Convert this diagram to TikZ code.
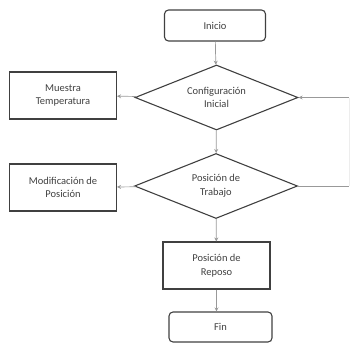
\documentclass[tikz,border=0pt]{standalone}
\usepackage{fontspec}
\setmainfont{Carlito}
\usetikzlibrary{shapes.geometric,arrows.meta}
\begin{document}
\begin{tikzpicture}[x=1pt,y=-1pt,
  every node/.style={font=\fontsize{10.5}{13.5}\selectfont, text=black!75, align=center, inner sep=0pt},
  termbox/.style={draw=black!75, line width=1.1pt, rounded corners=4pt, minimum width=101pt, minimum height=31pt},
  procbox/.style={draw=black!75, line width=1.1pt, minimum width=107pt, minimum height=47pt},
  decbox/.style={draw=black!75, line width=1.1pt, diamond, aspect=2.5, minimum width=163pt, minimum height=65pt},
  conn/.style={draw=black!40, line width=0.7pt, -{Stealth[length=4pt,width=4pt]}}]
\useasboundingbox (0,0) rectangle (350,345);
\node[termbox] (inicio) at (215,25.5) {Inicio};
\node[decbox] (conf) at (216.5,97.5) {Configuración\\Inicial};
\node[procbox] (muestra) at (63,95.5) {Muestra\\Temperatura};
\node[decbox] (trabajo) at (216,186) {Posición de\\Trabajo};
\node[procbox] (modif) at (63,187.5) {Modificación de\\Posición};
\node[procbox] (reposo) at (216.5,265.5) {Posición de\\Reposo};
\node[termbox, minimum width=103pt, minimum height=30pt] (fin) at (220.5,327) {Fin};
\coordinate (r1) at (349,97.5);
\coordinate (r2) at (349,186);
\draw[conn] (inicio) -- (conf);
\draw[conn] (conf) -- (muestra);
\draw[conn] (conf) -- (trabajo);
\draw[conn] (trabajo) -- (modif);
\draw[conn] (trabajo) -- (reposo);
\draw[conn] (reposo.south) -- (reposo.south |- fin.north);
\draw[draw=black!7, line width=0.7pt] (r2) -- (r1);
\draw[conn] (r1) -- (conf.east);
\draw[draw=black!40, line width=0.7pt] (trabajo.east) -- (r2);
\end{tikzpicture}
\end{document}
